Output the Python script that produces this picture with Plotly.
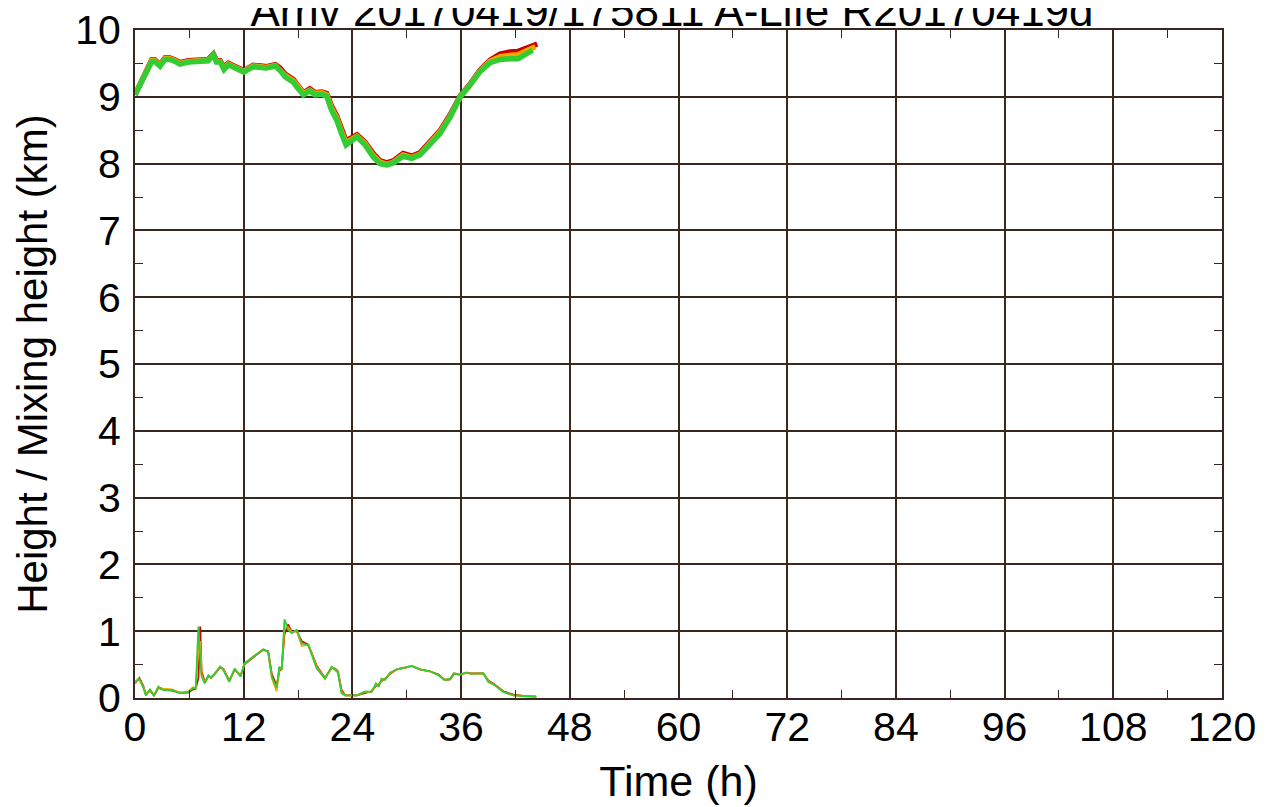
import plotly.graph_objects as go

# trajectory height (km) vs time (h); red, orange, green runs
traj_t = [0, 0.74, 1.29, 1.84, 2.2, 2.76, 3.31, 3.86, 4.42, 4.97, 5.89, 6.81, 7.5, 8.1, 8.65,
          9.0, 9.4, 9.83, 10.3, 10.85, 11.4, 12.03, 12.5, 13.06, 13.9, 14.5, 15.5, 16.0, 16.56, 17.48,
          17.85, 18.6, 19.3, 19.87, 20.6, 21.16, 21.7, 22.27, 22.8, 23.3, 24.5, 25.4, 26.3, 27.05, 27.8,
          28.5, 29.6, 30.55, 31.46, 32.57, 33.67, 34.8, 35.9, 37.0, 38.1, 39.2, 40.3, 41.4, 42.3, 43.05]
traj_end_t = {"red": 44.4, "orange": 44.2, "green": 43.9}

traj_red = [9.03, 9.24, 9.37, 9.55, 9.55, 9.48, 9.58, 9.58, 9.55, 9.51, 9.54, 9.54, 9.54, 9.56, 9.64,
            9.54, 9.54, 9.44, 9.50, 9.47, 9.44, 9.39, 9.43, 9.47, 9.46, 9.45, 9.48, 9.43, 9.34, 9.26,
            9.19, 9.06, 9.12, 9.06, 9.07, 9.05, 8.86, 8.71, 8.52, 8.34, 8.43, 8.32, 8.15, 8.04, 8.01,
            8.04, 8.15, 8.11, 8.16, 8.34, 8.49, 8.73, 9.01, 9.19, 9.40, 9.55, 9.64, 9.67, 9.68, 9.72, 9.79]
traj_orange = [9.03, 9.23, 9.36, 9.54, 9.54, 9.47, 9.57, 9.57, 9.54, 9.50, 9.53, 9.53, 9.53, 9.55, 9.63,
               9.53, 9.53, 9.42, 9.49, 9.45, 9.42, 9.38, 9.42, 9.46, 9.45, 9.44, 9.47, 9.41, 9.32, 9.24,
               9.17, 9.05, 9.10, 9.05, 9.06, 9.03, 8.83, 8.68, 8.48, 8.31, 8.41, 8.30, 8.12, 8.02, 7.99,
               8.02, 8.13, 8.09, 8.14, 8.32, 8.47, 8.71, 9.00, 9.18, 9.39, 9.53, 9.60, 9.62, 9.63, 9.68, 9.75]
traj_green = [9.03, 9.22, 9.35, 9.53, 9.53, 9.46, 9.56, 9.56, 9.53, 9.49, 9.52, 9.52, 9.52, 9.54, 9.63,
              9.52, 9.52, 9.41, 9.48, 9.44, 9.41, 9.37, 9.41, 9.45, 9.44, 9.43, 9.46, 9.40, 9.30, 9.22,
              9.15, 9.03, 9.09, 9.03, 9.04, 9.01, 8.80, 8.65, 8.45, 8.28, 8.40, 8.28, 8.10, 8.00, 7.98,
              8.01, 8.11, 8.08, 8.13, 8.30, 8.45, 8.70, 9.00, 9.18, 9.38, 9.51, 9.56, 9.57, 9.57, 9.63, 9.70]

# mixing height (km)
mix_t = [0, 0.48, 0.92, 1.2, 1.66, 2.1, 2.57, 3.1, 4.05, 4.97, 5.9, 6.4, 6.7, 7.0, 7.2,
         7.35, 7.7, 8.1, 8.4, 8.83, 9.4, 9.75, 10.4, 11.0, 11.67, 12.07, 13.06, 14.16, 14.7, 15.1,
         15.64, 15.93, 16.2, 16.5, 16.9, 17.3, 17.85, 18.4, 19.13, 20.06, 20.98, 21.7, 22.08, 22.4, 22.8,
         23.2, 24.5, 25.4, 26.1, 26.6, 26.9, 27.2, 27.6, 28.15, 28.9, 30.0, 30.55, 31.46, 32.57, 33.5,
         34.2, 34.8, 35.2, 35.9, 36.6, 37.1, 38.45, 39.0, 39.74, 40.66, 41.76, 42.87, 44.3]
mix_red = [0.22, 0.30, 0.18, 0.05, 0.11, 0.04, 0.15, 0.13, 0.11, 0.08, 0.08, 0.13, 0.14, 0.30, 1.07,
           0.40, 0.24, 0.32, 0.31, 0.36, 0.46, 0.44, 0.26, 0.42, 0.34, 0.50, 0.61, 0.72, 0.70, 0.36,
           0.18, 0.40, 0.45, 0.95, 1.10, 0.99, 1.00, 0.85, 0.80, 0.48, 0.30, 0.45, 0.44, 0.40, 0.12,
           0.04, 0.04, 0.08, 0.10, 0.18, 0.20, 0.25, 0.29, 0.36, 0.43, 0.46, 0.48, 0.43, 0.40, 0.35,
           0.27, 0.28, 0.36, 0.35, 0.38, 0.37, 0.37, 0.26, 0.20, 0.10, 0.05, 0.03, 0.02]
mix_orange = [0.23, 0.28, 0.16, 0.06, 0.12, 0.05, 0.16, 0.14, 0.13, 0.08, 0.10, 0.16, 0.14, 0.75, 0.85,
              0.35, 0.23, 0.33, 0.30, 0.36, 0.47, 0.43, 0.25, 0.43, 0.33, 0.51, 0.62, 0.73, 0.69, 0.30,
              0.10, 0.44, 0.43, 1.05, 1.06, 0.98, 1.01, 0.78, 0.80, 0.46, 0.29, 0.46, 0.43, 0.39, 0.09,
              0.04, 0.04, 0.09, 0.09, 0.20, 0.18, 0.27, 0.28, 0.37, 0.43, 0.46, 0.48, 0.43, 0.40, 0.34,
              0.27, 0.29, 0.37, 0.35, 0.38, 0.36, 0.37, 0.25, 0.19, 0.09, 0.04, 0.03, 0.02]
mix_green = [0.24, 0.29, 0.15, 0.04, 0.13, 0.03, 0.17, 0.12, 0.12, 0.07, 0.09, 0.15, 0.15, 1.07, 0.60,
             0.32, 0.22, 0.34, 0.30, 0.37, 0.47, 0.42, 0.24, 0.44, 0.32, 0.52, 0.62, 0.73, 0.69, 0.32,
             0.15, 0.47, 0.42, 1.18, 1.02, 0.97, 1.02, 0.82, 0.79, 0.44, 0.29, 0.47, 0.42, 0.38, 0.07,
             0.04, 0.04, 0.10, 0.09, 0.22, 0.17, 0.29, 0.27, 0.38, 0.43, 0.46, 0.48, 0.43, 0.40, 0.34,
             0.27, 0.29, 0.37, 0.35, 0.38, 0.36, 0.37, 0.24, 0.19, 0.09, 0.04, 0.03, 0.02]

x_ticks = [0, 12, 24, 36, 48, 60, 72, 84, 96, 108, 120]
y_ticks = [0, 1, 2, 3, 4, 5, 6, 7, 8, 9, 10]

colors = {"red": "#cc0000", "orange": "#ffa500", "green": "#33cc33"}
grid_col = "#3a2820"

fig = go.Figure()
for name, mix_y in [("red", mix_red), ("orange", mix_orange), ("green", mix_green)]:
    fig.add_trace(go.Scatter(x=mix_t, y=mix_y, mode="lines",
                             line=dict(color=colors[name], width=1.8), showlegend=False))
for name, ty in [("red", traj_red), ("orange", traj_orange), ("green", traj_green)]:
    fig.add_trace(go.Scatter(x=traj_t + [traj_end_t[name]], y=ty, mode="lines",
                             line=dict(color=colors[name], width=5.5), showlegend=False))

axis_common = dict(
    showline=True, linecolor=grid_col, linewidth=2, mirror="allticks",
    showgrid=True, gridcolor=grid_col, gridwidth=1.6,
    ticks="inside", ticklen=8, tickcolor=grid_col, zeroline=False,
    tickfont=dict(size=41, color="black"), automargin=False,
    ticklabeloverflow="allow",
)

# page body has an 8px margin, so margins are shifted by that amount
fig.update_layout(
    width=1277, height=807,
    margin=dict(l=127, r=63, t=22, b=117),
    paper_bgcolor="white", plot_bgcolor="white",
    font=dict(family="Liberation Sans, Arial, sans-serif", color="black"),
    title=dict(text="Arriv 20170419/175811 A-Life R20170419d", font=dict(size=44),
               x=0.494, xref="paper", xanchor="center", y=1, yref="paper", yanchor="bottom",
               pad=dict(b=4)),
    xaxis=dict(range=[0, 120], tickvals=x_ticks, ticklabelstandoff=-8,
               title=dict(text="Time (h)", font=dict(size=43), standoff=17),
               minor=dict(dtick=6, tick0=0, ticks="inside", ticklen=8, tickcolor=grid_col, showgrid=False),
               **axis_common),
    yaxis=dict(range=[0, 10], tickvals=y_ticks, ticklabelstandoff=4,
               title=dict(text="Height / Mixing height (km)", font=dict(size=42), standoff=14),
               minor=dict(dtick=0.5, tick0=0, ticks="inside", ticklen=8, tickcolor=grid_col, showgrid=False),
               **axis_common),
)

fig.write_html("out.html")
